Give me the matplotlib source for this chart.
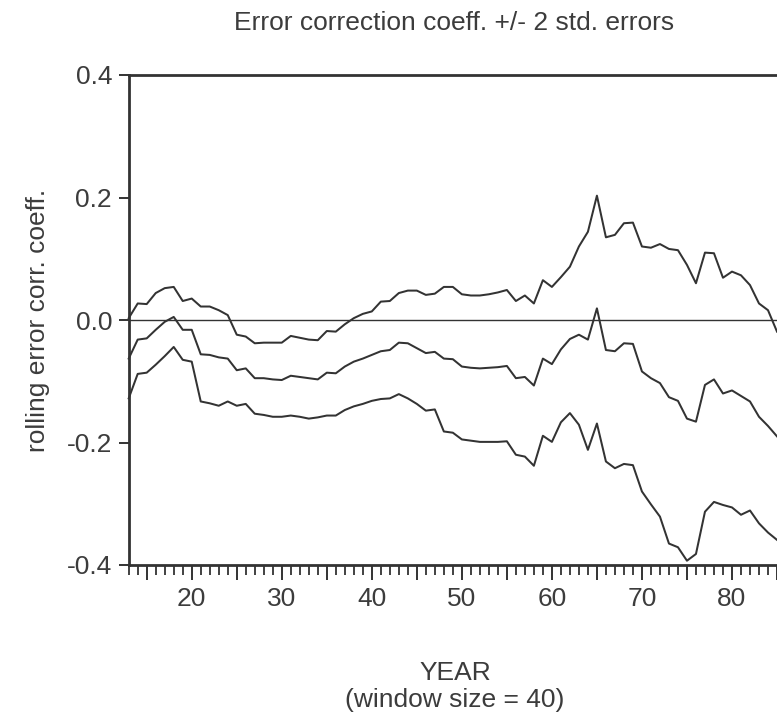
import matplotlib
matplotlib.use("Agg")
import matplotlib.pyplot as plt
from matplotlib.ticker import MultipleLocator, FuncFormatter, FixedLocator

plt.rcParams['font.family'] = ['Liberation Sans', 'DejaVu Sans']
plt.rcParams['axes.unicode_minus'] = False

years = list(range(13, 86))

upper = [0.003, 0.027, 0.026, 0.044, 0.052, 0.054, 0.031, 0.035, 0.022, 0.022,
         0.016, 0.008, -0.024, -0.027, -0.038, -0.037, -0.037, -0.037, -0.026, -0.029,
         -0.032, -0.033, -0.018, -0.019, -0.007, 0.003, 0.010, 0.014, 0.030, 0.031,
         0.044, 0.048, 0.048, 0.041, 0.043, 0.054, 0.054, 0.042, 0.040, 0.040,
         0.042, 0.045, 0.049, 0.031, 0.040, 0.027, 0.065, 0.054, 0.070, 0.087,
         0.120, 0.144, 0.203, 0.135, 0.139, 0.158, 0.159, 0.120, 0.118, 0.124,
         0.116, 0.114, 0.090, 0.060, 0.110, 0.109, 0.069, 0.079, 0.073, 0.057,
         0.027, 0.016, -0.019]

coef = [-0.063, -0.032, -0.030, -0.016, -0.003, 0.005, -0.016, -0.016, -0.056, -0.057,
        -0.061, -0.063, -0.082, -0.079, -0.095, -0.095, -0.097, -0.098, -0.091, -0.093,
        -0.095, -0.097, -0.086, -0.087, -0.076, -0.068, -0.063, -0.057, -0.051, -0.049,
        -0.037, -0.038, -0.046, -0.054, -0.052, -0.063, -0.064, -0.076, -0.078, -0.079,
        -0.078, -0.077, -0.075, -0.095, -0.093, -0.107, -0.063, -0.072, -0.048, -0.031,
        -0.024, -0.032, 0.019, -0.049, -0.051, -0.038, -0.039, -0.084, -0.095, -0.103,
        -0.126, -0.132, -0.161, -0.166, -0.106, -0.097, -0.120, -0.115, -0.124, -0.133,
        -0.158, -0.173, -0.190]

lower = [-0.128, -0.088, -0.086, -0.073, -0.059, -0.044, -0.065, -0.068, -0.133, -0.136,
         -0.140, -0.133, -0.140, -0.137, -0.153, -0.155, -0.158, -0.158, -0.156, -0.158,
         -0.161, -0.159, -0.156, -0.156, -0.147, -0.141, -0.137, -0.132, -0.129, -0.128,
         -0.121, -0.128, -0.137, -0.148, -0.146, -0.182, -0.184, -0.195, -0.197, -0.199,
         -0.199, -0.199, -0.198, -0.220, -0.223, -0.238, -0.189, -0.199, -0.167, -0.152,
         -0.171, -0.212, -0.169, -0.231, -0.242, -0.235, -0.237, -0.280, -0.301, -0.321,
         -0.365, -0.371, -0.393, -0.382, -0.313, -0.297, -0.302, -0.306, -0.318, -0.311,
         -0.332, -0.347, -0.359]

yticks = [-0.4, -0.2, 0.0, 0.2, 0.4]
ytick_labels = ["-0.4", "-0.2", "0.0", "0.2", "0.4"]

title = "Error correction coeff. +/- 2 std. errors"
ylabel = "rolling error corr. coeff."
xlabel1 = "YEAR"
xlabel2 = "(window size = 40)"

W, H = 777, 717
fig = plt.figure(figsize=(W / 100, H / 100), dpi=100)
fig.patch.set_facecolor("white")

left, right, top, bottom = 128.7, 777.0, 75.0, 565.0
ax = fig.add_axes([left / W, 1 - bottom / H, (right - left) / W, (bottom - top) / H])

ink = "#333333"
txt = "#3c3c3c"
fs = 19

ax.axhline(0, color=ink, lw=1.0, zorder=1)
for s in (upper, coef, lower):
    ax.plot(years, s, color=ink, lw=1.45, zorder=2, clip_on=False)

ax.set_xlim(13, 85)
ax.set_ylim(-0.4, 0.4)

ax.xaxis.set_major_locator(MultipleLocator(5))
ax.xaxis.set_minor_locator(MultipleLocator(1))
ax.xaxis.set_major_formatter(FuncFormatter(lambda v, p: f"{int(round(v))}" if int(round(v)) % 10 == 0 else ""))
ax.yaxis.set_major_locator(FixedLocator(yticks))
ax.set_yticklabels(ytick_labels)

ax.tick_params(axis="x", which="major", direction="out", length=11, width=1.4, colors=ink,
               labelsize=fs, labelcolor=txt, pad=5)
ax.tick_params(axis="x", which="minor", direction="out", length=7, width=1.3, colors=ink)
ax.tick_params(axis="y", which="major", direction="out", length=7, width=1.4, colors=ink,
               labelsize=fs, labelcolor=txt, pad=5)

for side in ("left", "bottom", "top"):
    ax.spines[side].set_linewidth(2.0)
    ax.spines[side].set_color(ink)
ax.spines["right"].set_visible(False)

fig.text(454 / W, 1 - 30 / H, title, ha="center", va="baseline", fontsize=fs, color=txt)
fig.text(38 / W, 1 - 320 / H, ylabel, ha="center", va="center", rotation=90, fontsize=fs, color=txt)
fig.text(455 / W, 1 - 680 / H, xlabel1, ha="center", va="baseline", fontsize=fs, color=txt)
fig.text(455 / W, 1 - 706.5 / H, xlabel2, ha="center", va="baseline", fontsize=fs, color=txt)

fig.savefig("out.png", dpi=100, facecolor="white")
